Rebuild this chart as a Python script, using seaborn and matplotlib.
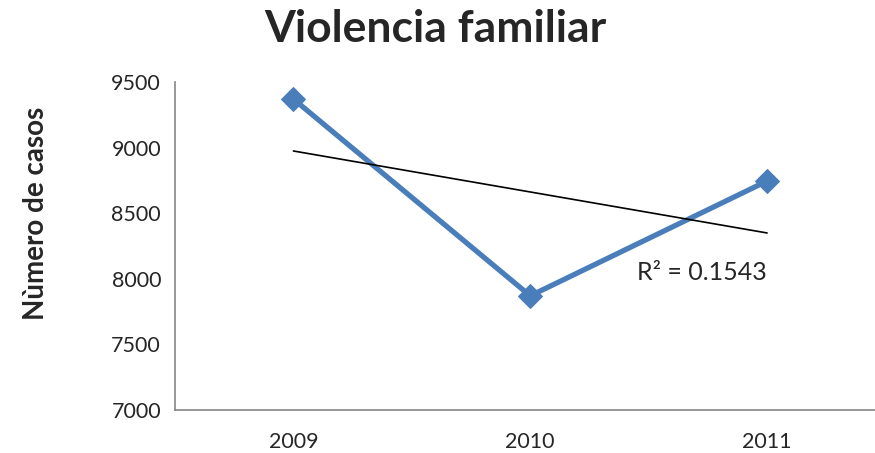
import numpy as np
import pandas as pd
from matplotlib import pyplot as plt
from matplotlib.ticker import FixedLocator
import seaborn as sns

years = ["2009", "2010", "2011"]
casos = [9370, 7870, 8745]
r2_label = "R² = 0.1543"

sns.set_style("white")
plt.rcParams['font.family'] = ['Lato', 'DejaVu Sans']

df = pd.DataFrame({"pos": np.arange(len(years)), "casos": casos})

fig = plt.figure(figsize=(8.75, 4.53), dpi=100)
ax = fig.add_axes([0.2, 0.095, 0.812, 0.724])

sns.lineplot(data=df, x="pos", y="casos", ax=ax, color="#4A7EBB", linewidth=3.8,
             marker="D", markersize=12, markeredgecolor="#4A7EBB")

# linear trendline
coef = np.polyfit(df["pos"], df["casos"], 1)
ax.plot(df["pos"], np.polyval(coef, df["pos"]), color="black", linewidth=1.2)
ax.text(1.45, 8050, r2_label, fontsize=18, va="center", ha="left")

ax.set_xlim(-0.5, 2.5)
ax.set_ylim(7000, 9500)
ax.set_yticks(np.arange(7000, 9501, 500))
ax.set_xticks(df["pos"])
ax.set_xticklabels(years)
ax.xaxis.set_minor_locator(FixedLocator([-0.5, 0.5, 1.5, 2.5]))
ax.tick_params(axis="x", which="major", length=0, labelsize=15.5, pad=16)
ax.tick_params(axis="x", which="minor", length=7, color="#868686", width=1.2, direction="out")
ax.tick_params(axis="y", length=7, color="#868686", width=1.2, direction="out", labelsize=15.5, pad=3)
ax.set_xlabel("")
ax.set_ylabel("Nùmero de casos", fontsize=20, fontweight="bold")
ax.yaxis.set_label_coords(-0.178, 0.6)

for s in ["top", "right"]:
    ax.spines[s].set_visible(False)
for s in ["left", "bottom"]:
    ax.spines[s].set_color("#868686")
    ax.spines[s].set_linewidth(1.2)

fig.text(0.498, 0.935, "Violencia familiar", fontsize=32, fontweight="bold", ha="center", va="center")

fig.savefig("out.png", dpi=100)
